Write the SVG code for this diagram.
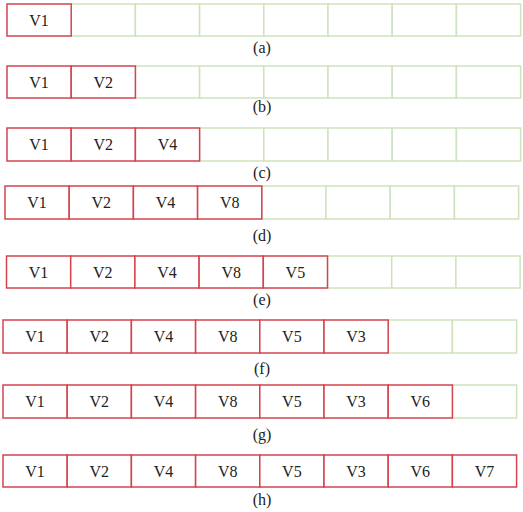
<svg xmlns="http://www.w3.org/2000/svg" width="523" height="512" viewBox="0 0 523 512">
<style>
.bg{fill:#ffffff}
.e{fill:#ffffff;stroke:#cfe2bd;stroke-width:1.5}
.f{fill:#ffffff;stroke:#d4434e;stroke-width:1.5}
.t{font-family:"Liberation Serif","Times New Roman",serif;font-size:16px;fill:#222222;text-anchor:middle}
.l{font-family:"Liberation Serif","Times New Roman",serif;font-size:16px;fill:#222222;text-anchor:middle}
</style>
<rect class="bg" x="0" y="0" width="523" height="512"/>

<g id="row-a">
<g id="a-empty">
<rect class="e" x="71.2" y="4" width="64.2" height="32"/><rect class="e" x="135.4" y="4" width="64.2" height="32"/><rect class="e" x="199.6" y="4" width="64.2" height="32"/><rect class="e" x="263.8" y="4" width="64.2" height="32"/><rect class="e" x="328" y="4" width="64.2" height="32"/><rect class="e" x="392.2" y="4" width="64.2" height="32"/><rect class="e" x="456.4" y="4" width="64.2" height="32"/>
</g>
<g id="a-1"><rect class="f" x="7" y="4" width="64.2" height="32"/><text class="t" x="39.1" y="25.5">V1</text></g>
<text id="label-a" class="l" x="262" y="53">(a)</text>
</g>

<g id="row-b">
<g id="b-empty">
<rect class="e" x="135.4" y="66" width="64.2" height="32"/><rect class="e" x="199.6" y="66" width="64.2" height="32"/><rect class="e" x="263.8" y="66" width="64.2" height="32"/><rect class="e" x="328" y="66" width="64.2" height="32"/><rect class="e" x="392.2" y="66" width="64.2" height="32"/><rect class="e" x="456.4" y="66" width="64.2" height="32"/>
</g>
<g id="b-1"><rect class="f" x="7" y="66" width="64.2" height="32"/><text class="t" x="39.1" y="87.5">V1</text></g>
<g id="b-2"><rect class="f" x="71.2" y="66" width="64.2" height="32"/><text class="t" x="103.3" y="87.5">V2</text></g>
<text id="label-b" class="l" x="262" y="112">(b)</text>
</g>

<g id="row-c">
<g id="c-empty">
<rect class="e" x="199.6" y="128" width="64.2" height="33"/><rect class="e" x="263.8" y="128" width="64.2" height="33"/><rect class="e" x="328" y="128" width="64.2" height="33"/><rect class="e" x="392.2" y="128" width="64.2" height="33"/><rect class="e" x="456.4" y="128" width="64.2" height="33"/>
</g>
<g id="c-1"><rect class="f" x="7" y="128" width="64.2" height="33"/><text class="t" x="39.1" y="150">V1</text></g>
<g id="c-2"><rect class="f" x="71.2" y="128" width="64.2" height="33"/><text class="t" x="103.3" y="150">V2</text></g>
<g id="c-3"><rect class="f" x="135.4" y="128" width="64.2" height="33"/><text class="t" x="167.5" y="150">V4</text></g>
<text id="label-c" class="l" x="262" y="178">(c)</text>
</g>

<g id="row-d">
<g id="d-empty">
<rect class="e" x="261.8" y="186" width="64.2" height="33"/><rect class="e" x="326" y="186" width="64.2" height="33"/><rect class="e" x="390.2" y="186" width="64.2" height="33"/><rect class="e" x="454.4" y="186" width="64.2" height="33"/>
</g>
<g id="d-1"><rect class="f" x="5" y="186" width="64.2" height="33"/><text class="t" x="37.1" y="208">V1</text></g>
<g id="d-2"><rect class="f" x="69.2" y="186" width="64.2" height="33"/><text class="t" x="101.3" y="208">V2</text></g>
<g id="d-3"><rect class="f" x="133.4" y="186" width="64.2" height="33"/><text class="t" x="165.5" y="208">V4</text></g>
<g id="d-4"><rect class="f" x="197.6" y="186" width="64.2" height="33"/><text class="t" x="229.7" y="208">V8</text></g>
<text id="label-d" class="l" x="262" y="241">(d)</text>
</g>

<g id="row-e">
<g id="e-empty">
<rect class="e" x="327.5" y="256" width="64.2" height="32"/><rect class="e" x="391.7" y="256" width="64.2" height="32"/><rect class="e" x="455.9" y="256" width="64.2" height="32"/>
</g>
<g id="e-1"><rect class="f" x="6.5" y="256" width="64.2" height="32"/><text class="t" x="38.6" y="277.5">V1</text></g>
<g id="e-2"><rect class="f" x="70.7" y="256" width="64.2" height="32"/><text class="t" x="102.8" y="277.5">V2</text></g>
<g id="e-3"><rect class="f" x="134.9" y="256" width="64.2" height="32"/><text class="t" x="167" y="277.5">V4</text></g>
<g id="e-4"><rect class="f" x="199.1" y="256" width="64.2" height="32"/><text class="t" x="231.2" y="277.5">V8</text></g>
<g id="e-5"><rect class="f" x="263.3" y="256" width="64.2" height="32"/><text class="t" x="295.4" y="277.5">V5</text></g>
<text id="label-e" class="l" x="262" y="305">(e)</text>
</g>

<g id="row-f">
<g id="f-empty">
<rect class="e" x="388.2" y="320" width="64.2" height="33"/><rect class="e" x="452.4" y="320" width="64.2" height="33"/>
</g>
<g id="f-1"><rect class="f" x="3" y="320" width="64.2" height="33"/><text class="t" x="35.1" y="342">V1</text></g>
<g id="f-2"><rect class="f" x="67.2" y="320" width="64.2" height="33"/><text class="t" x="99.3" y="342">V2</text></g>
<g id="f-3"><rect class="f" x="131.4" y="320" width="64.2" height="33"/><text class="t" x="163.5" y="342">V4</text></g>
<g id="f-4"><rect class="f" x="195.6" y="320" width="64.2" height="33"/><text class="t" x="227.7" y="342">V8</text></g>
<g id="f-5"><rect class="f" x="259.8" y="320" width="64.2" height="33"/><text class="t" x="291.9" y="342">V5</text></g>
<g id="f-6"><rect class="f" x="324" y="320" width="64.2" height="33"/><text class="t" x="356.1" y="342">V3</text></g>
<text id="label-f" class="l" x="262" y="374">(f)</text>
</g>

<g id="row-g">
<g id="g-empty">
<rect class="e" x="452.4" y="385" width="64.2" height="33"/>
</g>
<g id="g-1"><rect class="f" x="3" y="385" width="64.2" height="33"/><text class="t" x="35.1" y="407">V1</text></g>
<g id="g-2"><rect class="f" x="67.2" y="385" width="64.2" height="33"/><text class="t" x="99.3" y="407">V2</text></g>
<g id="g-3"><rect class="f" x="131.4" y="385" width="64.2" height="33"/><text class="t" x="163.5" y="407">V4</text></g>
<g id="g-4"><rect class="f" x="195.6" y="385" width="64.2" height="33"/><text class="t" x="227.7" y="407">V8</text></g>
<g id="g-5"><rect class="f" x="259.8" y="385" width="64.2" height="33"/><text class="t" x="291.9" y="407">V5</text></g>
<g id="g-6"><rect class="f" x="324" y="385" width="64.2" height="33"/><text class="t" x="356.1" y="407">V3</text></g>
<g id="g-7"><rect class="f" x="388.2" y="385" width="64.2" height="33"/><text class="t" x="420.3" y="407">V6</text></g>
<text id="label-g" class="l" x="262" y="440">(g)</text>
</g>

<g id="row-h">
<g id="h-1"><rect class="f" x="3" y="455" width="64.2" height="32"/><text class="t" x="35.1" y="476.5">V1</text></g>
<g id="h-2"><rect class="f" x="67.2" y="455" width="64.2" height="32"/><text class="t" x="99.3" y="476.5">V2</text></g>
<g id="h-3"><rect class="f" x="131.4" y="455" width="64.2" height="32"/><text class="t" x="163.5" y="476.5">V4</text></g>
<g id="h-4"><rect class="f" x="195.6" y="455" width="64.2" height="32"/><text class="t" x="227.7" y="476.5">V8</text></g>
<g id="h-5"><rect class="f" x="259.8" y="455" width="64.2" height="32"/><text class="t" x="291.9" y="476.5">V5</text></g>
<g id="h-6"><rect class="f" x="324" y="455" width="64.2" height="32"/><text class="t" x="356.1" y="476.5">V3</text></g>
<g id="h-7"><rect class="f" x="388.2" y="455" width="64.2" height="32"/><text class="t" x="420.3" y="476.5">V6</text></g>
<g id="h-8"><rect class="f" x="452.4" y="455" width="64.2" height="32"/><text class="t" x="484.5" y="476.5">V7</text></g>
<text id="label-h" class="l" x="262" y="505">(h)</text>
</g>
</svg>
